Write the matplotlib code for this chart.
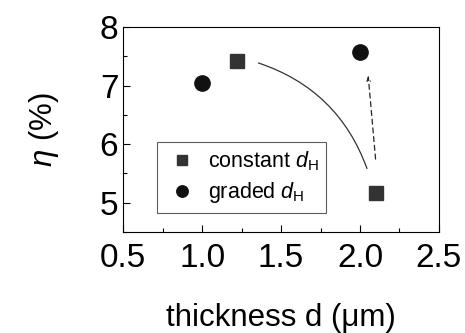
import matplotlib
matplotlib.use("Agg")
import matplotlib.pyplot as plt
from matplotlib.ticker import MultipleLocator

plt.rcParams["font.family"] = ["Liberation Sans", "DejaVu Sans"]
plt.rcParams["mathtext.fontset"] = "custom"
plt.rcParams["mathtext.it"] = "Liberation Sans:italic"
plt.rcParams["mathtext.rm"] = "Liberation Sans"

# data
const_x = [1.22, 2.10]
const_y = [7.42, 5.17]
graded_x = [1.00, 2.00]
graded_y = [7.04, 7.58]

x_ticks = [0.5, 1.0, 1.5, 2.0, 2.5]
y_ticks = [5, 6, 7, 8]

fig = plt.figure(figsize=(4.65, 3.33), dpi=100)
ax = fig.add_axes([0.265, 0.303, 0.679, 0.616])

ax.plot(const_x, const_y, "s", color="#333333", markersize=10, linestyle="none",
        label=r"constant $d_{\mathrm{H}}$")
ax.plot(graded_x, graded_y, "o", color="#111111", markersize=11, linestyle="none",
        label=r"graded $d_{\mathrm{H}}$")

# curved guide from the thin to the thick constant sample
ax.annotate("", xy=(2.05, 5.54), xytext=(1.34, 7.40),
            arrowprops=dict(arrowstyle="-", color="#333333", lw=0.9,
                            connectionstyle="arc3,rad=-0.25"))
# dashed arrow up to the graded sample
ax.annotate("", xy=(2.05, 7.22), xytext=(2.10, 5.70),
            arrowprops=dict(arrowstyle="->,head_length=0.3,head_width=0.12",
                            color="#222222", lw=0.9, linestyle=(0, (4, 3))))

ax.set_xlim(0.5, 2.5)
ax.set_ylim(4.5, 8)
ax.set_xticks(x_ticks)
ax.set_yticks(y_ticks)
ax.xaxis.set_minor_locator(MultipleLocator(0.25))
ax.yaxis.set_minor_locator(MultipleLocator(0.5))
ax.tick_params(which="both", direction="in", labelsize=24, top=False, right=False, width=0.8)
ax.tick_params(which="major", length=5)
ax.tick_params(which="minor", length=3)
ax.tick_params(axis="x", pad=8)

ax.set_xlabel("thickness d (\u03bcm)", fontsize=22.5, labelpad=21)
ax.set_ylabel(r"$\eta$ (%)", fontsize=22.5, labelpad=28)

for s in ax.spines.values():
    s.set_linewidth(0.8)

leg = ax.legend(loc="lower left", bbox_to_anchor=(0.108, 0.093), fontsize=15.5,
                frameon=True, fancybox=False, edgecolor="#333333",
                handletextpad=0.4, borderpad=0.35, labelspacing=0.35,
                borderaxespad=0, markerscale=0.75, handlelength=1.6)
leg.get_frame().set_linewidth(0.8)

fig.savefig("out.png", dpi=100)
